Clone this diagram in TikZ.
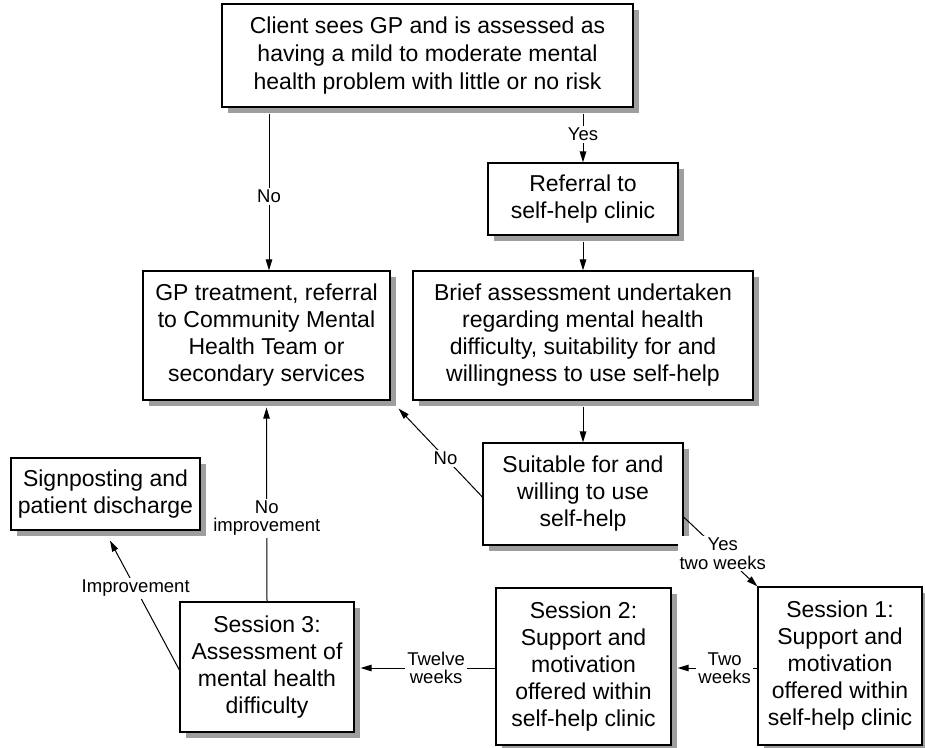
\documentclass[tikz,border=0pt]{standalone}
\usepackage{fontspec}
\setmainfont{Liberation Sans}
\usetikzlibrary{arrows.meta,shadows,calc}
\begin{document}
\begin{tikzpicture}[x=1pt,y=-1pt,
  box/.style={draw=black,line width=1.2pt,fill=white,align=center,inner sep=0pt,
     font=\fontsize{23}{27}\selectfont,
     drop shadow={shadow xshift=6pt,shadow yshift=-6pt,fill=black!38,opacity=1}},
  conn/.style={line width=1pt,-{Triangle[length=11pt,width=6.5pt]}},
  lbl/.style={fill=white,inner sep=2pt,font=\fontsize{18.5}{18.5}\selectfont,align=center}
]
\useasboundingbox (0,0) rectangle (925,747);

\node[box,minimum width=411pt,minimum height=103pt] (top) at (427.5,55.5)
  {Client sees GP and is assessed as\\[1pt]having a mild to moderate mental\\[1pt]health problem with little or no risk};
\node[box,minimum width=190pt,minimum height=72pt] (ref) at (583,199)
  {Referral to\\self-help clinic};
\node[box,minimum width=247pt,minimum height=129pt] (gp) at (266.5,335.5)
  {GP treatment, referral\\to Community Mental\\Health Team or\\secondary services};
\node[box,minimum width=340pt,minimum height=129pt] (brief) at (583,335.5)
  {Brief assessment undertaken\\regarding mental health\\difficulty, suitability for and\\willingness to use self-help};
\node[box,minimum width=200pt,minimum height=102pt] (suit) at (583,494)
  {Suitable for and\\willing to use\\self-help};
\node[box,minimum width=189pt,minimum height=72pt] (sign) at (105.5,494)
  {Signposting and\\patient discharge};
\node[box,minimum width=174pt,minimum height=130pt] (s3) at (267,667)
  {Session 3:\\Assessment of\\mental health\\difficulty};
\node[box,minimum width=175pt,minimum height=157pt] (s2) at (583.5,666.5)
  {Session 2:\\Support and\\motivation\\offered within\\self-help clinic};
\node[box,minimum width=164pt,minimum height=158pt] (s1) at (840,666)
  {Session 1:\\Support and\\motivation\\offered within\\self-help clinic};

\coordinate (cNo) at (269,0);

\draw[conn] ([yshift=-6pt]top.south -| cNo) -- node[lbl,pos=0.53]{No} (gp.north -| cNo);
\draw[conn] ([yshift=-6pt]top.south -| ref.north) -- node[lbl,pos=0.42]{Yes} (ref.north);
\draw[conn] ([yshift=-6pt]ref.south) -- (brief.north -| ref.south);
\draw[conn] ([yshift=-6pt]brief.south -| suit.north) -- (suit.north);
\draw[conn] ([yshift=-3pt]suit.west) -- node[lbl,pos=0.44]{No} ([shift={(8,8)}]gp.south east);
\draw[conn] ([yshift=-23pt]suit.east) -- node[lbl,pos=0.53]{Yes\\two weeks} (s1.north west);
\draw[conn] ([yshift=-2pt]s1.west) -- node[lbl,pos=0.41]{Two\\weeks} ([xshift=6pt,yshift=-1.5pt]s2.east);
\draw[conn] ([yshift=-1.5pt]s2.west) -- node[lbl,pos=0.44]{Twelve\\weeks} ([xshift=6pt,yshift=-1pt]s3.east);
\draw[conn] (s3.north) -- node[lbl,pos=0.43]{No\\improvement} ([yshift=-7pt]gp.south);
\draw[conn] ([yshift=-3pt]s3.west) -- node[lbl,pos=0.63]{Improvement} ([shift={(4.5,10)}]sign.south);
\end{tikzpicture}
\end{document}
